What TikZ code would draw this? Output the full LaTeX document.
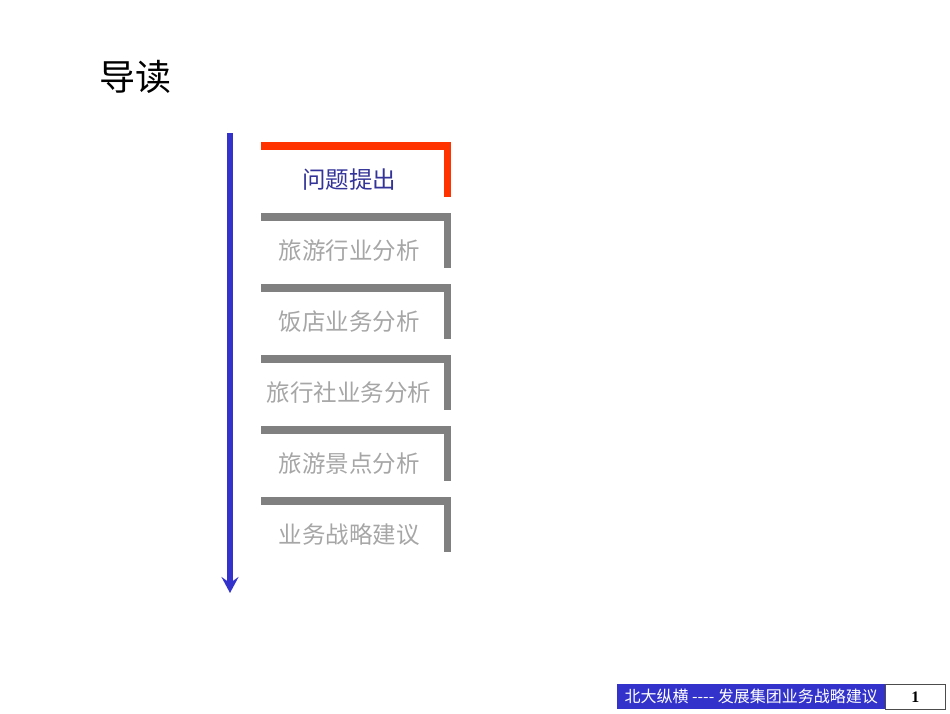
\documentclass[tikz,border=0pt]{standalone}
\usepackage{fontspec}
\setmainfont{Noto Sans CJK SC}
\newfontfamily\numfont{Liberation Serif}
\usetikzlibrary{arrows.meta}
\definecolor{flowblue}{RGB}{51,51,204}
\definecolor{titleblue}{RGB}{51,51,153}
\definecolor{markred}{RGB}{255,51,0}
\definecolor{markgray}{RGB}{128,128,128}
\definecolor{textgray}{RGB}{166,166,166}
\begin{document}
\begin{tikzpicture}[x=1pt, y=-1pt,
				   bracket/.style={line width=7.5pt, line cap=butt, line join=miter},
				   item/.style={font=\fontsize{23.5}{26}\selectfont, text=textgray, inner sep=0pt},
				   footbox/.style={minimum height=25pt, inner sep=0pt, anchor=north west}]
\useasboundingbox (0,0) rectangle (950,713);
\node[font=\fontsize{36}{40}\selectfont, inner sep=0pt] (title) at (135,77) {导读};
% flow arrow
\coordinate (top) at (230,133);
\coordinate (bottom) at (230,593);
\draw[flowblue, line width=6pt, -{Stealth[length=16pt, width=17pt, inset=6pt]}] (top) -- (bottom);
% first item
\draw[bracket, markred] (261,146) -- (447.5,146) -- (447.5,197);
\node[item, text=titleblue] (item1) at (349,180) {问题提出};
% other items
\foreach \name/\label [count=\i] in {item2/旅游行业分析, item3/饭店业务分析, item4/旅行社业务分析, item5/旅游景点分析, item6/业务战略建议}{
	\draw[bracket, markgray] (261,146+71*\i) -- (447.5,146+71*\i) -- (447.5,197+71*\i);
	\node[item] (\name) at (349,180+71*\i) {\label};
}
% footer
\node[footbox, fill=flowblue, minimum width=268pt, text=white, font=\fontsize{16}{18}\selectfont] (footer) at (617,684) {北大纵横 {-}{-}{-}{-} 发展集团业务战略建议};
\node[footbox, draw=black!70, line width=0.6pt, minimum width=60pt, font=\numfont\bfseries\fontsize{16}{18}\selectfont] (page) at (885,684) {1};
\end{tikzpicture}
\end{document}
